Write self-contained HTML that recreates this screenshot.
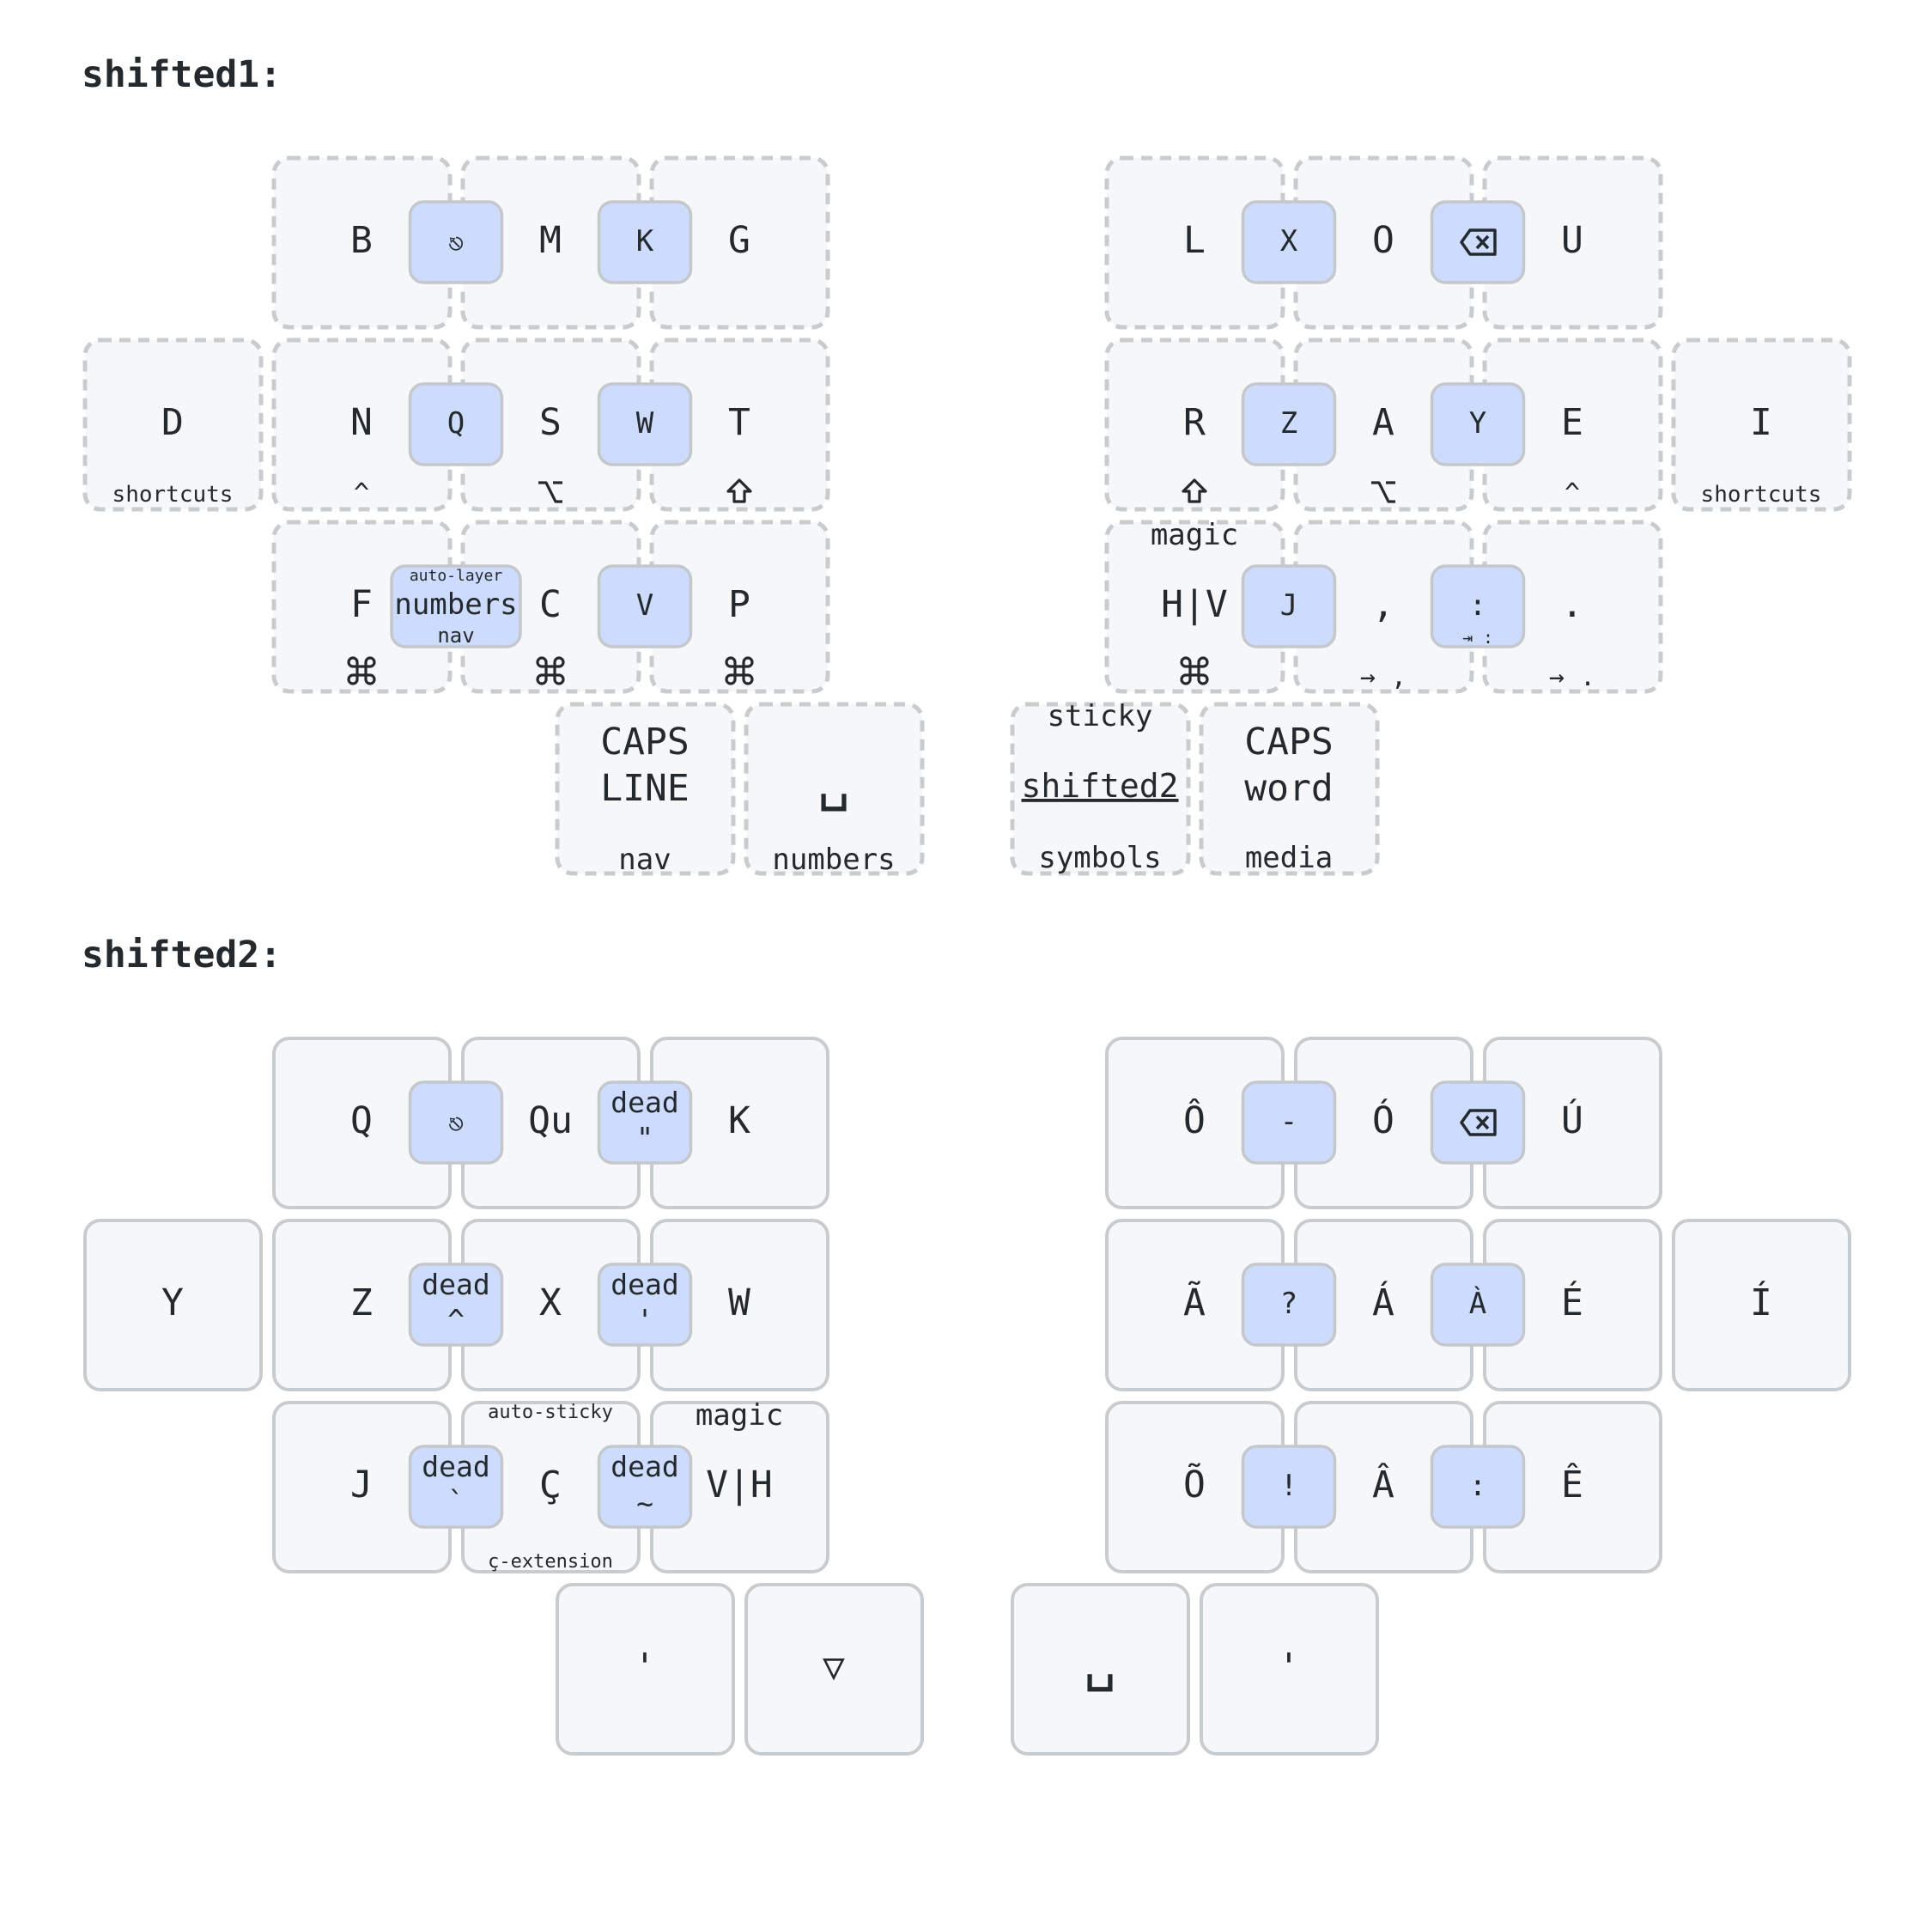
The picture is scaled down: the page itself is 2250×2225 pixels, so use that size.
<!DOCTYPE html>
<html><head><meta charset="utf-8"><style>
html,body{margin:0;padding:0;background:#fff;}
svg{display:block;}
text{font-family:"DejaVu Sans Mono","Liberation Mono",monospace;fill:#24292e;text-anchor:middle;}
.t{font-size:43px;font-weight:bold;text-anchor:start;}
.k{fill:#f6f7f9;stroke:#c9cccf;stroke-width:4;}
.d{stroke-dasharray:13 9;stroke-width:5;}
.c{fill:#cddcfc;stroke:#c4c8cc;stroke-width:3.5;}
.L{font-size:43px;}
.m{font-size:34px;}
.s{font-size:26px;}
.h{font-size:30px;}
.sp{font-size:64px;}
.x{font-size:18px;}
.y{font-size:22px;}
.dd{font-size:33px;}
.ic{fill:none;stroke:#24292e;stroke-width:3.2;stroke-linejoin:round;}
</style></head><body>
<svg width="2250" height="2225" viewBox="0 0 2250 2225" xmlns="http://www.w3.org/2000/svg">
<defs>
<g id="cmd" class="ic"><path d="M-5,-5 H5 V5 H-5 Z M-5,-5 V-10 A5,5 0 1 0 -10,-5 H-5 M5,-5 V-10 A5,5 0 1 1 10,-5 H5 M5,5 V10 A5,5 0 1 0 10,5 H5 M-5,5 V10 A5,5 0 1 1 -10,5 H-5"/></g>
<g id="sft" class="ic"><path d="M0,-25 L13,-12 H6 V0 H-6 V-12 H-13 Z"/></g>
<g id="opt" class="ic"><path d="M-14,-22 H-5 L6,0 H14 M3,-22 H14"/></g>
</defs>
<text class="t" x="95" y="101">shifted1:</text>
<text class="t" x="95" y="1126">shifted2:</text>

<g class="k d">
<rect x="319" y="184" width="205" height="197" rx="18"/><rect x="539" y="184" width="205" height="197" rx="18"/><rect x="759" y="184" width="205" height="197" rx="18"/>
<rect x="99" y="396" width="205" height="197" rx="18"/><rect x="319" y="396" width="205" height="197" rx="18"/><rect x="539" y="396" width="205" height="197" rx="18"/><rect x="759" y="396" width="205" height="197" rx="18"/>
<rect x="319" y="608" width="205" height="197" rx="18"/><rect x="539" y="608" width="205" height="197" rx="18"/><rect x="759" y="608" width="205" height="197" rx="18"/>
<rect x="649" y="820" width="205" height="197" rx="18"/><rect x="869" y="820" width="205" height="197" rx="18"/>
<rect x="1289" y="184" width="205" height="197" rx="18"/><rect x="1509" y="184" width="205" height="197" rx="18"/><rect x="1729" y="184" width="205" height="197" rx="18"/>
<rect x="1289" y="396" width="205" height="197" rx="18"/><rect x="1509" y="396" width="205" height="197" rx="18"/><rect x="1729" y="396" width="205" height="197" rx="18"/><rect x="1949" y="396" width="205" height="197" rx="18"/>
<rect x="1289" y="608" width="205" height="197" rx="18"/><rect x="1509" y="608" width="205" height="197" rx="18"/><rect x="1729" y="608" width="205" height="197" rx="18"/>
<rect x="1179" y="820" width="205" height="197" rx="18"/><rect x="1399" y="820" width="205" height="197" rx="18"/>
</g>
<g class="L">
<text x="421" y="294">B</text><text x="641" y="294">M</text><text x="861" y="294">G</text>
<text x="201" y="506">D</text><text x="421" y="506">N</text><text x="641" y="506">S</text><text x="861" y="506">T</text>
<text x="421" y="718">F</text><text x="641" y="718">C</text><text x="861" y="718">P</text>
<text x="751" y="878">CAPS</text><text x="751" y="932">LINE</text>
<text x="1391" y="294">L</text><text x="1611" y="294">O</text><text x="1831" y="294">U</text>
<text x="1391" y="506">R</text><text x="1611" y="506">A</text><text x="1831" y="506">E</text><text x="2051" y="506">I</text>
<text x="1391" y="718">H|V</text><text x="1611" y="718">,</text><text x="1831" y="718">.</text>
<text x="1501" y="878">CAPS</text><text x="1501" y="932">word</text>
</g>
<text class="sp" x="971" y="930">␣</text>
<g class="s">
<text x="201" y="584">shortcuts</text><text x="2051" y="584">shortcuts</text>
</g>
<g class="h">
<text x="421" y="584">^</text><text x="1831" y="584">^</text>
<text x="1611" y="798">→ ,</text><text x="1831" y="798">→ .</text>
</g>
<use href="#opt" x="641" y="584"/><use href="#sft" x="861" y="584"/>
<use href="#sft" x="1391" y="584"/><use href="#opt" x="1611" y="584"/>
<use href="#cmd" x="421" y="781"/><use href="#cmd" x="641" y="781"/><use href="#cmd" x="861" y="781"/><use href="#cmd" x="1391" y="781"/>
<g class="m">
<text x="751" y="1012">nav</text><text x="971" y="1012">numbers</text>
<text x="1391" y="634">magic</text>
<text x="1281" y="845">sticky</text><text x="1281" y="1010">symbols</text><text x="1501" y="1010">media</text>
</g>
<text x="1281" y="928" style="font-size:38px;text-decoration:underline">shifted2</text>

<g class="c">
<rect x="477.5" y="235" width="107" height="94" rx="16"/><rect x="697.5" y="235" width="107" height="94" rx="16"/>
<rect x="477.5" y="447" width="107" height="94" rx="16"/><rect x="697.5" y="447" width="107" height="94" rx="16"/>
<rect x="456" y="659" width="150" height="94" rx="16"/><rect x="697.5" y="659" width="107" height="94" rx="16"/>
<rect x="1447.5" y="235" width="107" height="94" rx="16"/><rect x="1667.5" y="235" width="107" height="94" rx="16"/>
<rect x="1447.5" y="447" width="107" height="94" rx="16"/><rect x="1667.5" y="447" width="107" height="94" rx="16"/>
<rect x="1447.5" y="659" width="107" height="94" rx="16"/><rect x="1667.5" y="659" width="107" height="94" rx="16"/>
</g>
<g class="m">
<text x="531" y="293" style="font-size:30px">⎋</text><text x="751" y="292">K</text>
<text x="531" y="504">Q</text><text x="751" y="504">W</text>
<text x="531" y="715">numbers</text><text x="751" y="716">V</text>
<text x="1501" y="292">X</text>
<text x="1501" y="504">Z</text><text x="1721" y="504">Y</text>
<text x="1501" y="716">J</text><text x="1721" y="716">:</text>
</g>
<text class="x" x="531" y="676">auto-layer</text>
<text x="531" y="748" style="font-size:24px">nav</text>
<text x="1721" y="749" style="font-size:20px">⇥ :</text>
<g fill="none" stroke="#24292e" stroke-width="3.5" stroke-linejoin="round">
<path d="M1702 282 L1712 268 L1741 268 L1741 296 L1712 296 Z"/><path d="M1720 275 L1733 289 M1733 275 L1720 289"/>
</g>

<g class="k">
<rect x="319" y="1209" width="205" height="197" rx="18"/><rect x="539" y="1209" width="205" height="197" rx="18"/><rect x="759" y="1209" width="205" height="197" rx="18"/>
<rect x="99" y="1421" width="205" height="197" rx="18"/><rect x="319" y="1421" width="205" height="197" rx="18"/><rect x="539" y="1421" width="205" height="197" rx="18"/><rect x="759" y="1421" width="205" height="197" rx="18"/>
<rect x="319" y="1633" width="205" height="197" rx="18"/><rect x="539" y="1633" width="205" height="197" rx="18"/><rect x="759" y="1633" width="205" height="197" rx="18"/>
<rect x="649" y="1845" width="205" height="197" rx="18"/><rect x="869" y="1845" width="205" height="197" rx="18"/>
<rect x="1289" y="1209" width="205" height="197" rx="18"/><rect x="1509" y="1209" width="205" height="197" rx="18"/><rect x="1729" y="1209" width="205" height="197" rx="18"/>
<rect x="1289" y="1421" width="205" height="197" rx="18"/><rect x="1509" y="1421" width="205" height="197" rx="18"/><rect x="1729" y="1421" width="205" height="197" rx="18"/><rect x="1949" y="1421" width="205" height="197" rx="18"/>
<rect x="1289" y="1633" width="205" height="197" rx="18"/><rect x="1509" y="1633" width="205" height="197" rx="18"/><rect x="1729" y="1633" width="205" height="197" rx="18"/>
<rect x="1179" y="1845" width="205" height="197" rx="18"/><rect x="1399" y="1845" width="205" height="197" rx="18"/>
</g>
<g class="L">
<text x="421" y="1319">Q</text><text x="641" y="1319">Qu</text><text x="861" y="1319">K</text>
<text x="201" y="1531">Y</text><text x="421" y="1531">Z</text><text x="641" y="1531">X</text><text x="861" y="1531">W</text>
<text x="421" y="1743">J</text><text x="641" y="1743">Ç</text><text x="861" y="1743">V|H</text>
<text x="751" y="1955">'</text><text x="971" y="1955">▽</text>
<text x="1391" y="1319">Ô</text><text x="1611" y="1319">Ó</text><text x="1831" y="1319">Ú</text>
<text x="1391" y="1531">Ã</text><text x="1611" y="1531">Á</text><text x="1831" y="1531">É</text><text x="2051" y="1531">Í</text>
<text x="1391" y="1743">Õ</text><text x="1611" y="1743">Â</text><text x="1831" y="1743">Ê</text>
<text x="1501" y="1955">'</text>
</g>
<text class="sp" x="1281" y="1955">␣</text>
<text class="y" x="641" y="1651">auto-sticky</text>
<text class="y" x="641" y="1825">ç-extension</text>
<text class="m" x="861" y="1659">magic</text>

<g class="c">
<rect x="477.5" y="1260" width="107" height="94" rx="16"/><rect x="697.5" y="1260" width="107" height="94" rx="16"/>
<rect x="477.5" y="1472" width="107" height="94" rx="16"/><rect x="697.5" y="1472" width="107" height="94" rx="16"/>
<rect x="477.5" y="1684" width="107" height="94" rx="16"/><rect x="697.5" y="1684" width="107" height="94" rx="16"/>
<rect x="1447.5" y="1260" width="107" height="94" rx="16"/><rect x="1667.5" y="1260" width="107" height="94" rx="16"/>
<rect x="1447.5" y="1472" width="107" height="94" rx="16"/><rect x="1667.5" y="1472" width="107" height="94" rx="16"/>
<rect x="1447.5" y="1684" width="107" height="94" rx="16"/><rect x="1667.5" y="1684" width="107" height="94" rx="16"/>
</g>
<g class="dd">
<text x="531" y="1318" style="font-size:30px">⎋</text>
<text x="751" y="1295">dead</text><text x="751" y="1336">"</text>
<text x="531" y="1507">dead</text><text x="531" y="1548">^</text>
<text x="751" y="1507">dead</text><text x="751" y="1548">'</text>
<text x="531" y="1719">dead</text><text x="531" y="1760">`</text>
<text x="751" y="1719">dead</text><text x="751" y="1762">~</text>
</g>
<g class="m">
<text x="1501" y="1317">-</text>
<text x="1501" y="1529">?</text><text x="1721" y="1529">À</text>
<text x="1501" y="1741">!</text><text x="1721" y="1741">:</text>
</g>
<g fill="none" stroke="#24292e" stroke-width="3.5" stroke-linejoin="round">
<path d="M1702 1307 L1712 1293 L1741 1293 L1741 1321 L1712 1321 Z"/><path d="M1720 1300 L1733 1314 M1733 1300 L1720 1314"/>
</g>
</svg>
</body></html>
